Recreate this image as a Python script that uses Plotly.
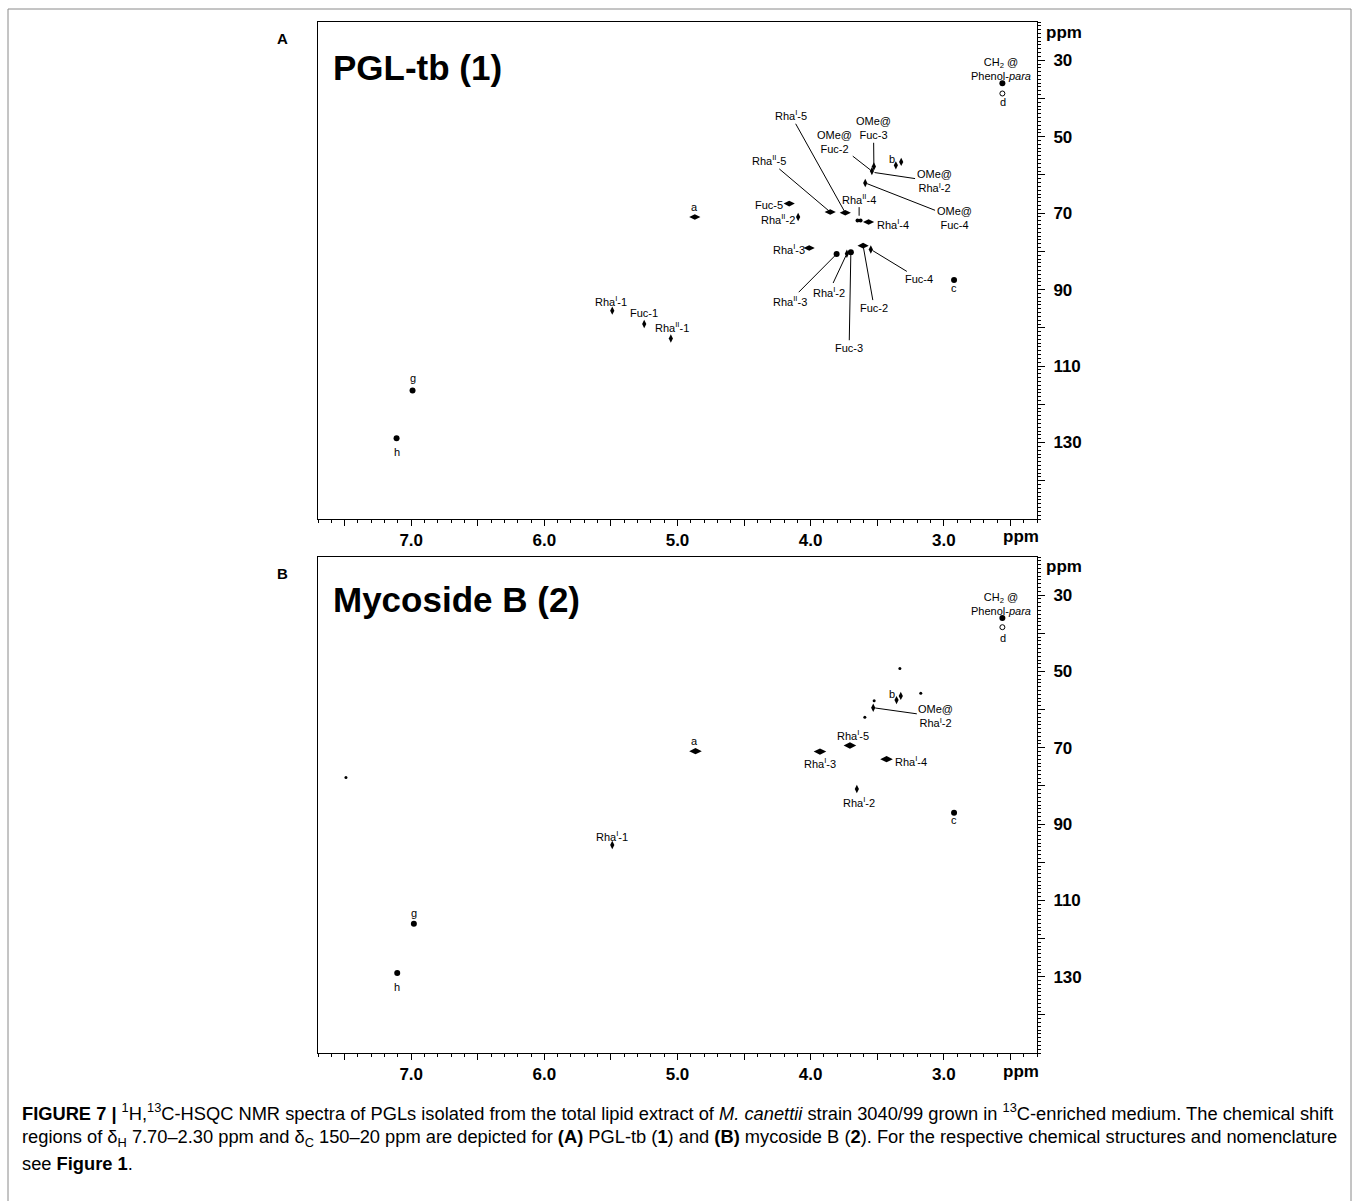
import plotly.graph_objects as go

W, H = 1358, 1201

# ---------------- data: panel A (PGL-tb) peaks, (1H ppm, 13C ppm) ----------------
A_round_h = [2.56, 6.99, 7.11, 3.805, 3.698, 2.923]
A_round_c = [36.0, 116.4, 128.9, 80.7, 80.2, 87.5]
A_small_h = [3.648, 3.625]
A_small_c = [71.9, 71.9]
A_open_h = [2.56]
A_open_c = [38.7]
A_wide_h = [4.87, 3.74, 3.853, 3.565, 4.161, 4.011, 3.606]
A_wide_c = [71.0, 69.9, 69.7, 72.3, 67.5, 79.1, 78.5]
A_tall_h = [5.49, 5.25, 5.05, 3.525, 3.54, 3.36, 3.32, 3.59, 4.094, 3.728, 3.548]
A_tall_c = [95.5, 99.0, 102.8, 57.8, 59.0, 57.5, 56.6, 62.1, 71.0, 80.6, 79.5]

# labels: text, label position (h, c), leader target (h, c) or None
A_labels = [
    "CH<sub>2</sub> @<br>Phenol-<i>para</i>", "d", "a", "Rha<sup>I</sup>-1", "Fuc-1",
    "Rha<sup>II</sup>-1", "g", "h", "Rha<sup>I</sup>-5", "OMe@<br>Fuc-2", "OMe@<br>Fuc-3",
    "b", "Rha<sup>II</sup>-5", "OMe@<br>Rha<sup>I</sup>-2", "Rha<sup>II</sup>-4",
    "OMe@<br>Fuc-4", "Fuc-5", "Rha<sup>II</sup>-2", "Rha<sup>I</sup>-4", "Rha<sup>I</sup>-3",
    "Rha<sup>II</sup>-3", "Rha<sup>I</sup>-2", "Fuc-2", "Fuc-4", "Fuc-3", "c",
]
A_label_h = [2.572, 2.557, 4.869, 5.50, 5.25, 5.04, 6.99, 7.11, 4.148, 3.823, 3.528,
             3.39, 4.311, 3.073, 3.636, 2.923, 4.311, 4.248, 3.385, 4.161,
             4.153, 3.861, 3.523, 3.185, 3.711, 2.923]
A_label_c = [32.4, 41.0, 68.3, 93.0, 96.1, 99.9, 113.2, 132.6, 44.4, 51.3, 47.8,
             55.8, 56.2, 61.7, 66.2, 71.2, 67.8, 71.5, 72.8, 79.5,
             92.9, 90.5, 94.7, 87.2, 105.2, 89.7]
A_target_h = [None, None, None, None, None, None, None, None, 3.74, 3.54, 3.525,
              None, 3.853, 3.535, 3.636, 3.59, None, None, None, None,
              3.805, 3.728, 3.606, 3.548, 3.698, None]
A_target_c = [None, None, None, None, None, None, None, None, 69.9, 59.0, 57.8,
              None, 69.7, 59.3, 71.2, 62.1, None, None, None, None,
              80.7, 80.6, 78.5, 79.5, 80.2, None]

# ---------------- data: panel B (mycoside B) peaks ----------------
B_round_h = [2.56, 6.98, 7.105, 2.923]
B_round_c = [36.0, 116.1, 129.0, 87.0]
B_small_h = [3.33, 3.173, 3.593, 7.49, 3.523]
B_small_c = [49.2, 55.7, 62.0, 77.8, 57.7]
B_open_h = [2.56]
B_open_c = [38.4]
B_wide_h = [4.865, 3.705, 3.93, 3.43]
B_wide_c = [70.9, 69.4, 71.0, 73.0]
B_tall_h = [5.49, 3.355, 3.323, 3.53, 3.653]
B_tall_c = [95.5, 57.5, 56.4, 59.5, 80.8]

B_labels = [
    "CH<sub>2</sub> @<br>Phenol-<i>para</i>", "d", "a", "Rha<sup>I</sup>-1", "g", "h",
    "b", "OMe@<br>Rha<sup>I</sup>-2", "Rha<sup>I</sup>-5", "Rha<sup>I</sup>-3",
    "Rha<sup>I</sup>-4", "Rha<sup>I</sup>-2", "c",
]
B_label_h = [2.572, 2.557, 4.869, 5.49, 6.98, 7.105, 3.39, 3.06, 3.685, 3.93, 3.248, 3.636, 2.923]
B_label_c = [32.4, 41.3, 68.3, 93.0, 113.2, 132.6, 55.8, 61.8, 66.7, 74.1, 73.6, 84.3, 89.0]
B_target_h = [None, None, None, None, None, None, None, 3.53, None, None, None, None, None]
B_target_c = [None, None, None, None, None, None, None, 59.5, None, None, None, None, None]

# axis ticks
x_tickvals = [7.5, 7.0, 6.5, 6.0, 5.5, 5.0, 4.5, 4.0, 3.5, 3.0, 2.5]
x_ticktext = ["", "7.0", "", "6.0", "", "5.0", "", "4.0", "", "3.0", ""]
y_tickvals = [30, 40, 50, 60, 70, 80, 90, 100, 110, 120, 130, 140]
y_ticktext = ["30", "", "50", "", "70", "", "90", "", "110", "", "130", ""]

titles = ["PGL-tb (1)", "Mycoside B (2)"]
panel_letters = ["A", "B"]

caption_lines = [
    "<b>FIGURE 7 |</b> <sup>1</sup>H,<sup>13</sup>C-HSQC NMR spectra of PGLs isolated from the total lipid extract of "
    "<i>M. canettii</i> strain 3040/99 grown in <sup>13</sup>C-enriched medium. The chemical shift",
    "regions of δ<sub>H</sub> 7.70–2.30 ppm and δ<sub>C</sub> 150–20 ppm are depicted for <b>(A)</b> PGL-tb (<b>1</b>) "
    "and <b>(B)</b> mycoside B (<b>2</b>). For the respective chemical structures and nomenclature",
    "see <b>Figure 1</b>.",
]

# ---------------- figure ----------------
FONT = "Liberation Sans, Arial, sans-serif"


def px(x):
    return x / W


def py(y):
    return 1 - y / H


fig = go.Figure()

panels = [
    dict(xa="x", ya="y",
         groups=[(A_round_h, A_round_c, "circle", 6), (A_small_h, A_small_c, "circle", 4),
                 (A_open_h, A_open_c, "circle-open", 5), (A_wide_h, A_wide_c, "diamond-wide", 8),
                 (A_tall_h, A_tall_c, "diamond-tall", 6)],
         labels=(A_labels, A_label_h, A_label_c, A_target_h, A_target_c)),
    dict(xa="x2", ya="y2",
         groups=[(B_round_h, B_round_c, "circle", 6), (B_small_h, B_small_c, "circle", 3),
                 (B_open_h, B_open_c, "circle-open", 5), (B_wide_h, B_wide_c, "diamond-wide", 9),
                 (B_tall_h, B_tall_c, "diamond-tall", 6)],
         labels=(B_labels, B_label_h, B_label_c, B_target_h, B_target_c)),
]

annotations = []
for p in panels:
    for hx, cy, sym, size in p["groups"]:
        fig.add_trace(go.Scatter(
            x=hx, y=cy, xaxis=p["xa"], yaxis=p["ya"], mode="markers",
            marker=dict(symbol=sym, size=size, color="black",
                        line=dict(color="black", width=1 if sym.endswith("open") else 0)),
            showlegend=False, hoverinfo="skip"))
    texts, lh, lc, th, tc = p["labels"]
    for t, x0, y0, x1, y1 in zip(texts, lh, lc, th, tc):
        if x1 is None:
            annotations.append(dict(x=x0, y=y0, xref=p["xa"], yref=p["ya"], text=t, showarrow=False,
                                    font=dict(family=FONT, size=11, color="black")))
        else:
            annotations.append(dict(x=x1, y=y1, ax=x0, ay=y0, xref=p["xa"], yref=p["ya"],
                                    axref=p["xa"], ayref=p["ya"], text=t, showarrow=True,
                                    arrowhead=0, arrowwidth=1, arrowcolor="black", standoff=2,
                                    font=dict(family=FONT, size=11, color="black")))

# panel geometry (pixels)
boxes = [(22, 519), (557, 1053)]
x_dom = [px(318), px(1037)]

axis_common = dict(showgrid=False, zeroline=False, showline=True, mirror=True,
                   linecolor="black", linewidth=1, ticks="outside", tickcolor="black",
                   tickfont=dict(family=FONT, size=17, color="black", weight="bold"))

layout = dict(width=W, height=H, margin=dict(l=0, r=0, t=0, b=0),
              paper_bgcolor="white", plot_bgcolor="white", showlegend=False)

title_offsets = [45, 42]
for i, (top, bot) in enumerate(boxes):
    sfx = "" if i == 0 else "2"
    layout["xaxis" + sfx] = dict(
        axis_common, domain=x_dom, anchor="y" + sfx, range=[7.7, 2.3],
        tickmode="array", tickvals=x_tickvals, ticktext=x_ticktext, ticklen=6, tickwidth=1,
        minor=dict(tickmode="linear", tick0=2.3, dtick=0.1, ticklen=3, ticks="outside",
                   tickcolor="black", showgrid=False))
    layout["yaxis" + sfx] = dict(
        axis_common, domain=[py(bot), py(top)], anchor="x" + sfx, side="right", range=[150, 20],
        tickmode="array", tickvals=y_tickvals, ticktext=y_ticktext, ticklen=7, tickwidth=1,
        ticklabelstandoff=5,
        minor=dict(tickmode="linear", tick0=20, dtick=1, ticklen=3, ticks="outside",
                   tickcolor="black", showgrid=False))
    # title inside panel
    annotations.append(dict(x=px(331), y=py(top + title_offsets[i]), xref="paper", yref="paper",
                            xanchor="left", yanchor="middle", text="<b>%s</b>" % titles[i],
                            showarrow=False, font=dict(family=FONT, size=35, color="black")))
    # panel letter
    annotations.append(dict(x=px(282), y=py(top + 16), xref="paper", yref="paper", xanchor="center",
                            yanchor="middle", text="<b>%s</b>" % panel_letters[i], showarrow=False,
                            font=dict(family=FONT, size=15, color="black")))
    # ppm labels
    annotations.append(dict(x=px(1044), y=py(top + 10), xref="paper", yref="paper", xanchor="left",
                            yanchor="middle", text="<b>ppm</b>", showarrow=False,
                            font=dict(family=FONT, size=17, color="black")))
    annotations.append(dict(x=px(1021), y=py(bot + 18), xref="paper", yref="paper", xanchor="center",
                            yanchor="middle", text="<b>ppm</b>", showarrow=False,
                            font=dict(family=FONT, size=17, color="black")))

cap_y = [1112, 1138, 1163]
for line, yy in zip(caption_lines, cap_y):
    annotations.append(dict(x=px(20), y=py(yy), xref="paper", yref="paper", xanchor="left",
                            yanchor="middle", text=line, showarrow=False, align="left",
                            font=dict(family=FONT, size=18.3, color="black")))

layout["annotations"] = annotations
layout["shapes"] = [dict(type="rect", xref="paper", yref="paper", x0=px(8), x1=px(1351),
                         y0=-0.01, y1=py(9), line=dict(color="#8a8a8a", width=1))]

fig.update_layout(**layout)
fig.write_html("out.html")
